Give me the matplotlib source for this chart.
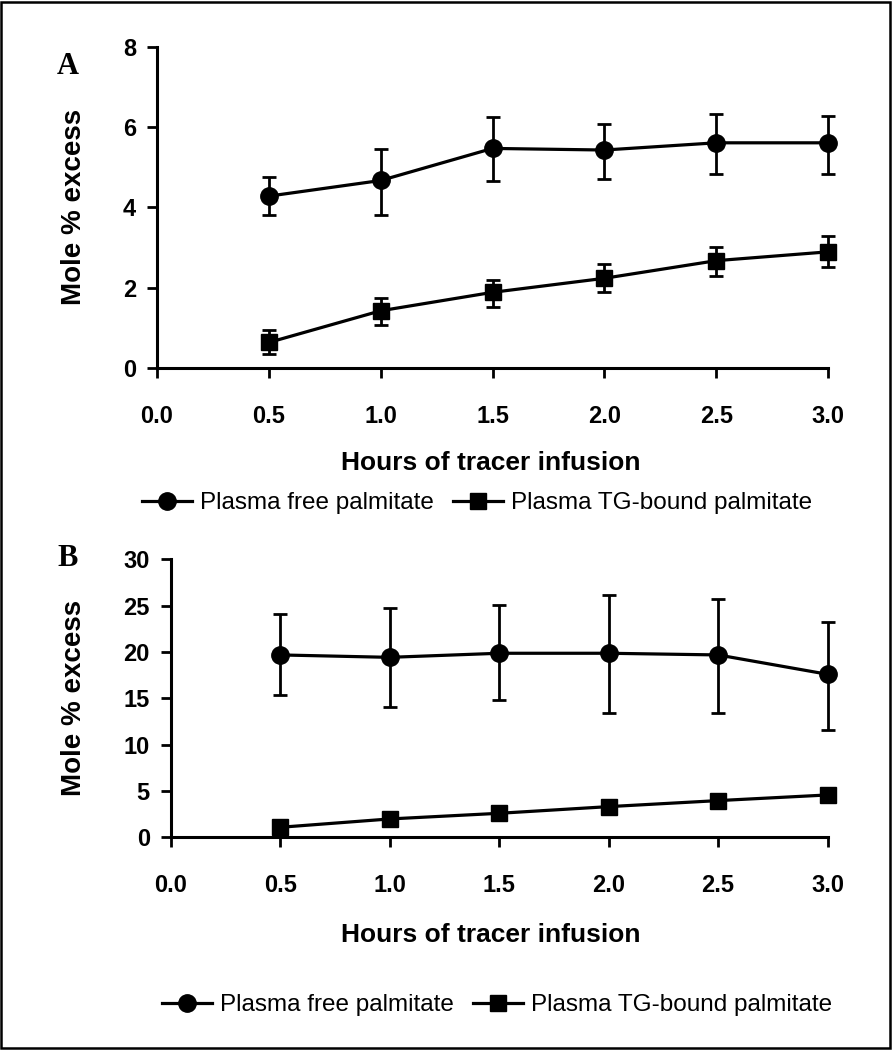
import numpy as np
import matplotlib
matplotlib.use('Agg')
import matplotlib.pyplot as plt
from matplotlib.lines import Line2D
from matplotlib.patches import Rectangle

plt.rcParams['font.family'] = ['Liberation Sans', 'DejaVu Sans']

# data
hours = [0.5, 1.0, 1.5, 2.0, 2.5, 3.0]
xticks = [0.0, 0.5, 1.0, 1.5, 2.0, 2.5, 3.0]

# panel A
a_free = [4.28, 4.67, 5.47, 5.43, 5.61, 5.61]
a_free_lo = [3.80, 3.82, 4.65, 4.70, 4.84, 4.84]
a_free_hi = [4.75, 5.45, 6.26, 6.09, 6.34, 6.29]
a_tg = [0.63, 1.42, 1.88, 2.23, 2.67, 2.89]
a_tg_lo = [0.34, 1.07, 1.51, 1.90, 2.28, 2.50]
a_tg_hi = [0.94, 1.73, 2.18, 2.58, 3.01, 3.29]

# panel B
b_free = [19.68, 19.42, 19.86, 19.86, 19.68, 17.59]
b_free_lo = [15.36, 14.10, 14.82, 13.45, 13.45, 11.58]
b_free_hi = [24.10, 24.78, 25.04, 26.15, 25.76, 23.27]
b_tg = [1.08, 1.98, 2.59, 3.31, 3.96, 4.57]

W, H = 892, 1050
fig = plt.figure(figsize=(W / 100, H / 100), dpi=100)


def px_axes(left, right, top, bottom):
    return fig.add_axes([left / W, 1 - bottom / H, (right - left) / W, (bottom - top) / H])


def style(ax, ymax, ystep):
    ax.set_xlim(0, 3.0)
    ax.set_ylim(0, ymax)
    ax.set_xticks(xticks)
    ax.set_xticklabels(['%.1f' % t for t in xticks])
    ax.set_yticks(np.arange(0, ymax + 0.1, ystep))
    for s in ['top', 'right']:
        ax.spines[s].set_visible(False)
    for s in ['left', 'bottom']:
        ax.spines[s].set_linewidth(2.2)
    ax.tick_params(axis='x', direction='out', length=7.5, width=2, pad=19, labelsize=17)
    ax.tick_params(axis='y', direction='out', length=7, width=2, pad=8, labelsize=17)
    for lab in ax.get_xticklabels() + ax.get_yticklabels():
        lab.set_fontweight('bold')
    ax.patch.set_visible(False)


def err(vals, lo, hi):
    v = np.array(vals)
    return [v - np.array(lo), np.array(hi) - v]


def noclip(cont):
    for art in cont.get_children():
        art.set_clip_on(False)


# ---- panel A
axA = px_axes(157, 828, 47, 367.7)
noclip(axA.errorbar(hours, a_free, yerr=err(a_free, a_free_lo, a_free_hi), color='black', lw=2.3,
                    marker='o', ms=12.5, elinewidth=2, capsize=5, capthick=2))
noclip(axA.errorbar(hours, a_tg, yerr=err(a_tg, a_tg_lo, a_tg_hi), color='black', lw=2.3,
                    marker='s', ms=11, elinewidth=2, capsize=5, capthick=2))
style(axA, 8, 2)

# ---- panel B
axB = px_axes(170.6, 827.6, 559.3, 837.3)
noclip(axB.errorbar(hours, b_free, yerr=err(b_free, b_free_lo, b_free_hi), color='black', lw=2.3,
                    marker='o', ms=12.5, elinewidth=2, capsize=5, capthick=2))
axB.plot(hours, b_tg, color='black', lw=2.3, marker='s', ms=11, clip_on=False)
style(axB, 30, 5)

# labels
for yc, xl_y, letter_y, letter in [(207, 463, 67, 'A'), (698, 935, 559, 'B')]:
    fig.text(74 / W, 1 - yc / H, 'Mole % excess', rotation=90, ha='center', va='center',
             fontsize=20, fontweight='bold')
    fig.text(491 / W, 1 - xl_y / H, 'Hours of tracer infusion', ha='center', va='center',
             fontsize=19, fontweight='bold')
    fig.text(68 / W, 1 - letter_y / H, letter, ha='center', va='center',
             fontsize=22, fontweight='bold', family=['Liberation Serif', 'DejaVu Serif'])

handles = [Line2D([], [], color='black', lw=2.3, marker='o', ms=12.5),
           Line2D([], [], color='black', lw=2.3, marker='s', ms=11)]
names = ['Plasma free palmitate', 'Plasma TG-bound palmitate']
for cx, cy in [(477, 503), (497, 1005)]:
    fig.legend(handles, names, loc='center', bbox_to_anchor=(cx / W, 1 - cy / H), ncol=2,
               frameon=False, fontsize=17.5, handlelength=2.05, handletextpad=0.33,
               columnspacing=0.82, borderpad=0, borderaxespad=0)

fig.patches.append(Rectangle((0.001, 0.002), 0.997, 0.996, transform=fig.transFigure,
                             fill=False, edgecolor='black', lw=1.8))

fig.savefig('out.png', dpi=100)
